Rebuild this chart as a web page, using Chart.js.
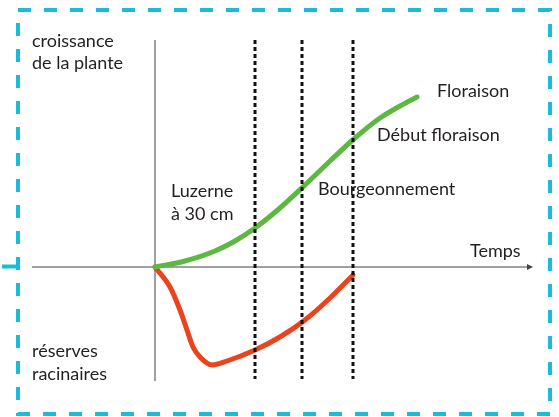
<!DOCTYPE html>
<html>
<head>
<meta charset="utf-8">
<script src="https://cdn.jsdelivr.net/npm/chart.js@4.4.1/dist/chart.umd.min.js"></script>
<style>
  body { margin: 0; background: #fff; }
  #wrap { width: 559px; height: 417px; }
</style>
</head>
<body>
<div id="wrap"><canvas id="chart" width="559" height="417"></canvas></div>
<script>
const growthTime = [0, 3, 6, 8, 10, 12.5, 15, 17.5, 20, 22.5, 24.5, 26.2];
const growthValue = [0, 0.6, 1.6, 2.6, 3.9, 5.9, 8.2, 10.6, 12.9, 14.9, 16.1, 17.0];
const reserveTime = [0, 1.5, 2.5, 3.2, 3.8, 4.5, 5.7, 7.2, 10, 12.5, 15, 17.5, 19.8];
const reserveValue = [0, -2.0, -4.3, -6.3, -8.0, -9.0, -9.8, -9.4, -8.3, -7.0, -5.3, -3.1, -0.8];
// stades : luzerne à 30 cm, bourgeonnement, début floraison
const stageTime = [10, 14.7, 19.8];
const stageLabels = ["Luzerne|à 30 cm", "Bourgeonnement", "Début floraison"];
const axisTop = 22.7;
const axisBottom = -11.4;

const toPoints = (xs, ys) => xs.map((x, i) => ({ x: x, y: ys[i] }));

const stageDatasets = stageTime.map((t) => ({
  data: [{ x: t, y: axisTop }, { x: t, y: -11.2 }],
  borderColor: "#111",
  borderWidth: 3,
  borderDash: [4, 3],
  pointRadius: 0,
  tension: 0,
  order: 0,
}));

const decor = {
  id: "decor",
  beforeDatasetsDraw(chart) {
    const ctx = chart.ctx;
    const xs = chart.scales.x;
    const ys = chart.scales.y;
    const x0 = xs.getPixelForValue(0);
    const y0 = ys.getPixelForValue(0);
    ctx.save();
    // cadre pointillé
    ctx.strokeStyle = "#1cbcd8";
    ctx.lineWidth = 4;
    ctx.setLineDash([13, 13]);
    ctx.strokeRect(18, 10, 532, 404);
    ctx.setLineDash([]);
    ctx.beginPath();
    ctx.moveTo(2, y0 - 0.5);
    ctx.lineTo(16, y0 - 0.5);
    ctx.stroke();
    // axes
    ctx.strokeStyle = "#a0a0a0";
    ctx.lineWidth = 2;
    ctx.beginPath();
    ctx.moveTo(x0, ys.getPixelForValue(axisTop));
    ctx.lineTo(x0, ys.getPixelForValue(axisBottom));
    const xEnd = xs.getPixelForValue(37.8);
    ctx.moveTo(xs.getPixelForValue(-12.3), y0);
    ctx.lineTo(xEnd - 3, y0);
    ctx.stroke();
    ctx.fillStyle = "#444";
    ctx.beginPath();
    ctx.moveTo(xEnd, y0);
    ctx.lineTo(xEnd - 6, y0 - 3);
    ctx.lineTo(xEnd - 6, y0 + 3);
    ctx.closePath();
    ctx.fill();
    ctx.restore();
  },
  afterDatasetsDraw(chart) {
    const ctx = chart.ctx;
    const xs = chart.scales.x;
    const ys = chart.scales.y;
    const text = (s, t, v) => {
      ctx.fillText(s, xs.getPixelForValue(t), ys.getPixelForValue(v));
    };
    ctx.save();
    ctx.fillStyle = "#231f20";
    ctx.font = "18px Lato";
    ctx.textBaseline = "alphabetic";
    text("croissance", -12.3, 22.0);
    text("de la plante", -12.3, 19.8);
    text("réserves", -12.3, -9.0);
    text("racinaires", -12.3, -11.3);
    const luz = stageLabels[0].split("|");
    text(luz[0], 1.6, 7.0);
    text(luz[1], 1.6, 4.7);
    text(stageLabels[1], 16.3, 7.2);
    text(stageLabels[2], 22.2, 12.6);
    text("Floraison", 28.2, 17.0);
    text("Temps", 31.5, 1.0);
    ctx.restore();
  },
};

new Chart(document.getElementById("chart"), {
  type: "line",
  data: {
    datasets: [
      ...stageDatasets,
      {
        data: toPoints(growthTime, growthValue),
        borderColor: "#5cb841",
        borderWidth: 5,
        cubicInterpolationMode: "monotone",
        pointRadius: 0,
        borderCapStyle: "round",
        order: 1,
      },
      {
        data: toPoints(reserveTime, reserveValue),
        borderColor: "#e8441d",
        borderWidth: 5,
        cubicInterpolationMode: "monotone",
        pointRadius: 0,
        borderCapStyle: "round",
        order: 1,
      },
    ],
  },
  options: {
    responsive: false,
    animation: false,
    layout: { padding: 0 },
    plugins: { legend: { display: false }, tooltip: { enabled: false } },
    scales: {
      x: { type: "linear", display: false, min: -15.5, max: 40.4 },
      y: { type: "linear", display: false, min: -15.0, max: 26.7 },
    },
  },
  plugins: [decor],
});
</script>
</body>
</html>
